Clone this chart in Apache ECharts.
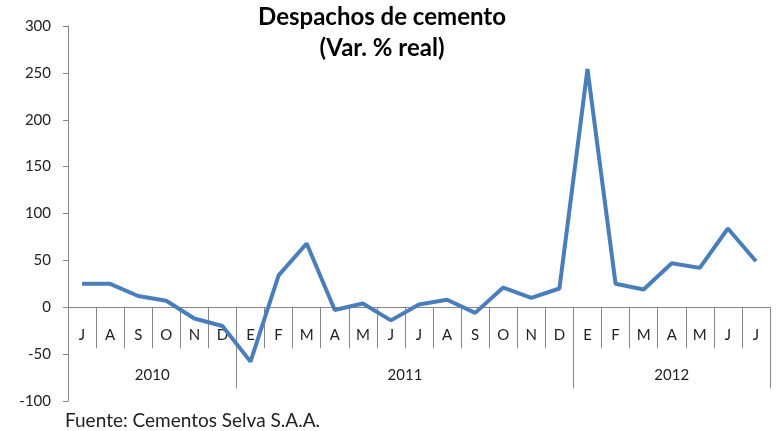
<!DOCTYPE html>
<html>
<head>
<meta charset="utf-8">
<script src="https://cdn.jsdelivr.net/npm/echarts@6/dist/echarts.min.js"></script>
<style>
  html, body { margin: 0; padding: 0; background: #fff; }
  #main { width: 779px; height: 431px; }
</style>
</head>
<body>
<div id="main"></div>
<script>
// meses (jul 2010 - jul 2012)
var months = ['J', 'A', 'S', 'O', 'N', 'D',
              'E', 'F', 'M', 'A', 'M', 'J', 'J', 'A', 'S', 'O', 'N', 'D',
              'E', 'F', 'M', 'A', 'M', 'J', 'J'];
var values = [25, 25, 12, 7, -12, -20,
              -58, 34, 68, -3, 4, -14, 3, 8, -6, 21, 10, 20,
              254, 25, 19, 47, 42, 84, 49];
var years = ['2010', '2011', '2012'];
var yearSizes = [6, 12, 7]; // meses por año
var yTicks = [-100, -50, 0, 50, 100, 150, 200, 250, 300];

// eje de años: medios meses, etiqueta en el centro de cada grupo
var halfSlots = [];
var yearBounds = [0];
var acc = 0;
for (var i = 0; i <= months.length * 2; i++) halfSlots.push('');
for (var k = 0; k < years.length; k++) {
    halfSlots[acc * 2 + yearSizes[k]] = years[k];
    acc += yearSizes[k];
    yearBounds.push(acc * 2);
}

var axisGray = '#868686';
var font = 'Lato, "Open Sans", sans-serif';

// posicion del cero en pixeles (grid: top 26, bottom 30, alto 431)
var gridTop = 26, gridBottom = 30;
var plotH = 431 - gridTop - gridBottom;
var zeroY = gridTop + plotH * yTicks[yTicks.length - 1] / (yTicks[yTicks.length - 1] - yTicks[0]);

var myChart = echarts.init(document.getElementById('main'));
var option = {
    animation: false,
    title: [{
        text: 'Despachos de cemento\n(Var. % real)',
        left: 377,
        top: -3,
        textAlign: 'center',
        textStyle: {
            fontFamily: font,
            fontSize: 24,
            fontWeight: 'bold',
            color: '#000',
            lineHeight: 31
        }
    }, {
        text: 'Fuente: Cementos Selva S.A.A.',
        left: 60,
        top: 406,
        textStyle: {
            fontFamily: font,
            fontSize: 19,
            fontWeight: 'normal',
            color: '#222'
        }
    }],
    grid: [{
        left: 68,
        right: 9,
        top: gridTop,
        bottom: gridBottom,
        containLabel: false,
        outerBoundsMode: 'none'
    }, {
        // grid auxiliar: su borde inferior es el cero del primero
        left: 68,
        right: 9,
        top: gridTop,
        bottom: 431 - zeroY,
        containLabel: false,
        outerBoundsMode: 'none'
    }],
    xAxis: [{
        type: 'category',
        gridIndex: 0,
        data: months,
        boundaryGap: true,
        show: false
    }, {
        type: 'category',
        gridIndex: 1,
        data: months,
        boundaryGap: true,
        position: 'bottom',
        axisLine: {
            onZero: false,
            lineStyle: { color: axisGray, width: 1 }
        },
        axisTick: {
            show: true,
            length: 41,
            interval: 0,
            lineStyle: { color: axisGray }
        },
        axisLabel: {
            interval: 0,
            margin: 20,
            fontFamily: font,
            fontSize: 15,
            color: '#222'
        },
        splitLine: { show: false }
    }, {
        type: 'category',
        gridIndex: 1,
        data: halfSlots,
        boundaryGap: false,
        position: 'bottom',
        axisLine: { show: false, onZero: false },
        axisTick: {
            show: true,
            length: 81,
            interval: function (index) {
                return yearBounds.indexOf(index) >= 0;
            },
            lineStyle: { color: axisGray }
        },
        axisLabel: {
            interval: 0,
            margin: 60,
            fontFamily: font,
            fontSize: 15,
            color: '#222'
        },
        splitLine: { show: false }
    }],
    yAxis: [{
        type: 'value',
        gridIndex: 0,
        min: yTicks[0],
        max: yTicks[yTicks.length - 1],
        interval: 50,
        axisLine: {
            show: true,
            lineStyle: { color: axisGray, width: 1 }
        },
        axisTick: {
            show: true,
            length: 5,
            lineStyle: { color: axisGray }
        },
        axisLabel: {
            margin: 17,
            fontFamily: font,
            fontSize: 15,
            color: '#222'
        },
        splitLine: { show: false }
    }, {
        type: 'value',
        gridIndex: 1,
        min: 0,
        max: 1,
        show: false
    }],
    series: [{
        type: 'line',
        data: values,
        xAxisIndex: 0,
        yAxisIndex: 0,
        showSymbol: false,
        symbol: 'none',
        lineStyle: { color: '#4a7ebb', width: 4 },
        itemStyle: { color: '#4a7ebb' },
        z: 5
    }]
};
if (option && typeof option === "object") {
    myChart.setOption(option, true);
}
</script>
</body>
</html>
